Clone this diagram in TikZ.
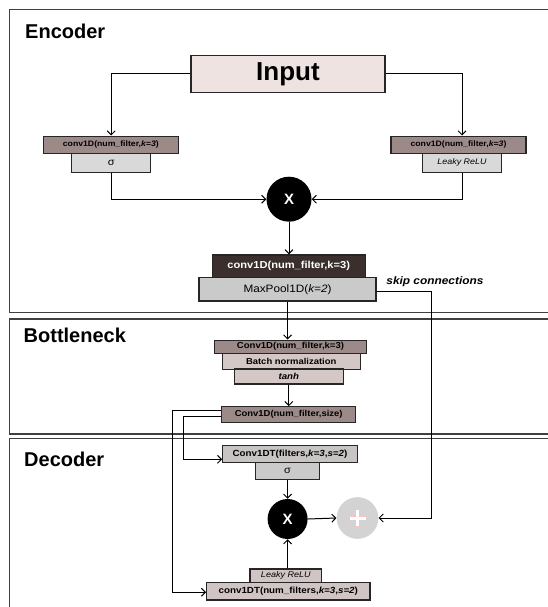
\documentclass[tikz,border=0pt]{standalone}
\usepackage{fontspec}
\setmainfont{Liberation Sans}
\newfontfamily\rotulo[FakeStretch=1.1]{Liberation Sans}
\usepackage{tikz}
\usetikzlibrary{arrows.meta}
\usepackage{xcolor}
\definecolor{inpcor}{HTML}{EFE3E2}
\definecolor{convcor}{HTML}{9B8A88}
\definecolor{sigcor}{HTML}{D9D9D9}
\definecolor{escuro}{HTML}{3A2F2D}
\definecolor{poolcor}{HTML}{CACACA}
\definecolor{bncor}{HTML}{D4C8C7}
\definecolor{decor}{HTML}{C8C4C4}
\definecolor{relucor}{HTML}{D0C5C4}
\definecolor{somacor}{HTML}{D3D3D3}
\newcommand{\tam}[1]{\fontsize{#1}{#1}\selectfont}

\begin{document}
\begin{tikzpicture}[x=1pt, y=-1pt,
    painel/.style={draw=black!75, line width=1.3pt},
    titulo/.style={anchor=base west, inner sep=0pt, font=\bfseries\tam{20}},
    caixa/.style={draw=black!85, line width=1.1pt, inner sep=0pt, font=\rotulo\bfseries\tam{8.7}},
    mult/.style={circle, fill=black, inner sep=0pt, text=white, font=\bfseries\tam{15}},
    seta/.style={-{Straight Barb[length=4pt,width=8pt]}, line width=1pt},
    linha/.style={line width=1pt}]
    \useasboundingbox (0,0) rectangle (548,607);
    \clip (0,0) rectangle (548,607);
    % Paineis
    \draw[painel] (9.3,9.3) rectangle (570,312.3);
    \draw[painel] (9.3,319) rectangle (570,434);
    \draw[painel] (9.3,438.5) rectangle (570,630);
    \node[titulo] (tEnc) at (25,39) {Encoder};
    \node[titulo] (tBot) at (23.5,342.7) {Bottleneck};
    \node[titulo] (tDec) at (24,466) {Decoder};
    % Encoder
    \node[caixa, fill=inpcor, minimum width=194pt, minimum height=36.6pt,
          font=\bfseries\tam{26}] (inp) at (288,74) {Input};
    \node[caixa, fill=convcor, minimum width=135pt, minimum height=17.3pt, font=\rotulo\bfseries\tam{7.9}] (convL) at (110.8,144.7) {conv1D(num\_filter,\textit{k=3})};
    \node[caixa, fill=sigcor, minimum width=79pt, minimum height=19pt, font=\rotulo\tam{10}] (sigL) at (111.2,162.8) {σ};
    \node[caixa, fill=convcor, minimum width=135pt, minimum height=17.3pt, font=\rotulo\bfseries\tam{7.9}] (convR) at (458.5,144.7) {conv1D(num\_filter,\textit{k=3})};
    \node[caixa, fill=sigcor, minimum width=79pt, minimum height=19pt, font=\rotulo\itshape\tam{8.1}] (reluR) at (462,162.8) {Leaky ReLU};
    \node[mult, minimum size=45pt] (mulE) at (289,199.2) {X};
    \node[caixa, fill=escuro, text=white, minimum width=152.7pt, minimum height=22.7pt, font=\rotulo\bfseries\tam{10.1}] (convE) at (288.7,266.3) {conv1D(num\_filter,k=3)};
    \node[caixa, fill=poolcor, minimum width=177pt, minimum height=23.3pt, font=\rotulo\tam{10.7}] (pool) at (287.5,289.3) {MaxPool1D(\textit{k=2})};
    \node[anchor=west, inner sep=0pt, font=\rotulo\bfseries\itshape\tam{10.8}] (skip) at (386.2,282) {skip connections};
    \draw[seta] (inp.west) -| (convL.north -| sigL.south);
    \draw[seta] (inp.east) -| (convR.north -| reluR.south);
    \draw[seta] (sigL.south) |- (mulE.west);
    \draw[seta] (reluR.south) |- (mulE.east);
    \draw[seta] (mulE.south) -- (convE.north -| mulE.south);
    % Bottleneck
    \node[caixa, fill=convcor, minimum width=152.4pt, minimum height=13.3pt] (convB) at (290.5,346.7) {Conv1D(num\_filter,k=3)};
    \node[caixa, fill=bncor, minimum width=137.7pt, minimum height=15.7pt, font=\rotulo\bfseries\tam{8.6}] (bn) at (291.2,361.2) {Batch normalization};
    \node[caixa, fill=bncor, minimum width=109pt, minimum height=15pt, font=\rotulo\bfseries\itshape\tam{8.8}] (tanh) at (288.8,376.5) {tanh};
    \node[caixa, fill=convcor, minimum width=134pt, minimum height=16pt, font=\rotulo\bfseries\tam{8.6}] (convS) at (288.7,414.7) {Conv1D(num\_filter,size)};
    \draw[seta] (pool.south) -- (pool.south |- convB.north);
    \draw[seta] (tanh.south) -- (tanh.south |- convS.north);
    % Decoder
    \node[caixa, fill=decor, minimum width=134.6pt, minimum height=17.3pt, font=\rotulo\bfseries\tam{8.9}] (convT) at (290,453.7) {Conv1DT(filters,\textit{k=3},\textit{s=2})};
    \node[caixa, fill=poolcor, minimum width=63.3pt, minimum height=17pt, font=\rotulo\tam{10}] (sigD) at (287.5,470.8) {σ};
    \node[mult, minimum size=40pt] (mulD) at (287.6,519) {X};
    \node[circle, fill=somacor, minimum size=41.7pt, inner sep=0pt] (addD) at (357.5,518) {};
    \node[caixa, fill=relucor, minimum width=71.7pt, minimum height=13.7pt, font=\rotulo\itshape\tam{8.2}] (reluD) at (285.8,575.8) {Leaky ReLU};
    \node[caixa, fill=relucor, minimum width=163.3pt, minimum height=17.3pt, font=\rotulo\bfseries\tam{8.9}] (convT2) at (288.3,591.3) {conv1DT(num\_filters,\textit{k=3},\textit{s=2})};
    % Sinal de soma
    \draw[line width=4.4pt, draw=red!25!white] (addD.center) ++(-8.5,0) -- ++(17,0) (addD.center) ++(0,-8.5) -- ++(0,17);
    \draw[line width=3pt, white] (addD.center) ++(-8,0) -- ++(16,0) (addD.center) ++(0,-8) -- ++(0,16);
    \draw[seta] (sigD.south -| mulD.north) -- (mulD.north);
    \draw[seta] (mulD.south |- reluD.north) -- (mulD.south);
    \draw[seta] (mulD.east) -- (addD.west);
    % Ligacoes
    \coordinate (sk1) at (431.7,291.5);
    \draw[linha] (pool.east |- sk1) -- (sk1);
    \draw[seta] (sk1) |- (addD.east);
    \coordinate (c1) at (172,410);
    \coordinate (c2) at (183.3,416);
    \coordinate (e1) at (172,592.3);
    \coordinate (e2) at (183.3,459.3);
    \draw[linha] (convS.west |- c1) -- (c1) -- (e1);
    \draw[seta] (e1) -- (e1 -| convT2.west);
    \draw[linha] (convS.west |- c2) -- (c2) -- (e2);
    \draw[seta] (e2) -- (e2 -| convT.west);
\end{tikzpicture}
\end{document}
